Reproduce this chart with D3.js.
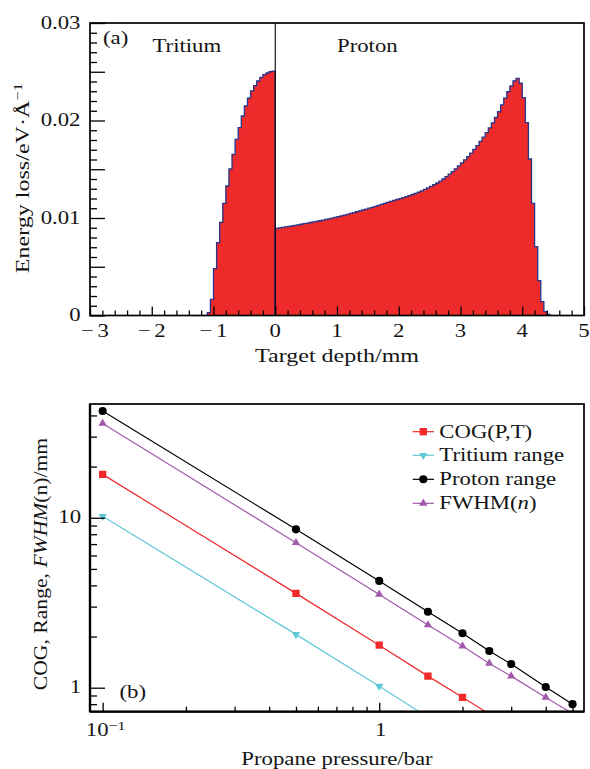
<!DOCTYPE html>
<html>
<head>
<meta charset="utf-8">
<script src="https://cdn.jsdelivr.net/npm/d3@7"></script>
<style>
  body { margin: 0; background: #fff; }
  svg text { font-family: "Liberation Serif", "Times New Roman", serif; fill: #141414; }
</style>
</head>
<body>
<svg id="fig" width="590" height="769"></svg>
<script>
// ---------- (a) energy-loss histograms ----------
const binWidth = 0.05;               // mm per histogram bin
const tritiumStart = -1.10;          // left edge of first tritium bin (mm)
const tritiumLoss = [
  0.00029, 0.00166, 0.0048, 0.00747, 0.00956, 0.01151, 0.01328, 0.01503, 0.01653, 0.01807,
  0.01926, 0.02046, 0.02149, 0.02228, 0.02303, 0.02357, 0.02405, 0.02443, 0.0247, 0.02487,
  0.025, 0.02505
];
const protonStart = 0;
const protonLoss = [
  0.00894, 0.00899, 0.00904, 0.00909, 0.00914, 0.00919, 0.00925, 0.0093, 0.00936, 0.00942,
  0.00948, 0.00954, 0.0096, 0.00966, 0.00972, 0.00978, 0.00985, 0.00992, 0.00999, 0.01006,
  0.01014, 0.01022, 0.0103, 0.01038, 0.01047, 0.01055, 0.01064, 0.01073, 0.01082, 0.01092,
  0.01101, 0.0111, 0.0112, 0.0113, 0.0114, 0.0115, 0.0116, 0.0117, 0.0118, 0.0119,
  0.01199, 0.01209, 0.01219, 0.0123, 0.01241, 0.01253, 0.01266, 0.01279, 0.01293, 0.01308,
  0.01324, 0.01341, 0.01359, 0.01378, 0.014, 0.01424, 0.01449, 0.01476, 0.01504, 0.01534,
  0.01565, 0.01597, 0.0163, 0.01665, 0.01703, 0.01743, 0.01785, 0.01829, 0.01875, 0.01924,
  0.01976, 0.02031, 0.0209, 0.0216, 0.0223, 0.02295, 0.02355, 0.02405, 0.02433, 0.02382,
  0.02234, 0.01978, 0.01605, 0.01151, 0.00706, 0.00357, 0.00142, 0.00039, 0.00012
];
const depthTicks = [-3, -2, -1, 0, 1, 2, 3, 4, 5];
const depthTickLabels = ["\u2212\u20063", "\u2212\u20062", "\u2212\u20061", "0", "1", "2", "3", "4", "5"];
const lossTicks = [0, 0.01, 0.02, 0.03];
const lossTickLabels = ["0", "0.01", "0.02", "0.03"];

// ---------- (b) ranges vs. pressure ----------
const pressure = [0.1, 0.5, 1, 1.5, 2, 2.5, 3, 4, 5];
const protonRange = [42.5, 8.55, 4.25, 2.80, 2.09, 1.644, 1.378, 1.01, 0.80];
const fwhmN = [35.9, 7.13, 3.54, 2.34, 1.76, 1.39, 1.17, 0.877, 0.705];
const cogPressure = [0.1, 0.5, 1, 1.5, 2, 2.5];
const cogPT = [18.0, 3.59, 1.78, 1.17, 0.878, 0.70];
const tritiumPressure = [0.1, 0.5, 1, 1.5];
const tritiumRange = [10.2, 2.06, 1.02, 0.67];
const pressureMajor = [0.1, 1];
const pressureMinor = [0.2, 0.3, 0.4, 0.5, 0.6, 0.7, 0.8, 0.9, 2, 3, 4, 5];
const rangeMajor = [1, 10];
const rangeMinor = [0.8, 0.9, 2, 3, 4, 5, 6, 7, 8, 9, 20, 30, 40];

// ---------- drawing ----------
const svg = d3.select("#fig");
const FS = 18.5;     // base font size
const SX = 1.23;     // horizontal glyph stretch of the typeface
const red = "#ee2a2a", navy = "#27358a", cyan = "#62c8d6", purple = "#a15aab";

// text helper: parts = [[string, {italic, sup}], ...]
function label(parent, parts, x, y, opts = {}) {
  const t = parent.append("text")
    .attr("transform", `translate(${x},${y})${opts.rotate ? ` rotate(${opts.rotate})` : ""} scale(${opts.sx || SX},1)`)
    .attr("text-anchor", opts.anchor || "start")
    .style("font-size", (opts.size || FS) + "px");
  if (typeof parts === "string") parts = [[parts, {}]];
  let raised = 0;
  parts.forEach(([s, st]) => {
    const sp = t.append("tspan").text(s);
    if (st.italic) sp.style("font-style", "italic");
    if (st.sup) {
      sp.style("font-size", (FS * 0.7) + "px").attr("dy", -st.sup);
      raised += st.sup;
    } else if (raised) {
      sp.attr("dy", raised); raised = 0;
    }
  });
  return t;
}

function frame(g, x0, x1, y0, y1, w) {
  g.append("rect").attr("x", x0).attr("y", y0).attr("width", x1 - x0).attr("height", y1 - y0)
    .attr("fill", "none").attr("stroke", "#000").attr("stroke-width", w);
}

function ticksAxis(g, axisFn, scale, values, len, translate) {
  const a = axisFn(scale).tickValues(values).tickSizeInner(-len).tickSizeOuter(0).tickFormat("");
  const sel = g.append("g").attr("transform", translate).call(a);
  sel.select(".domain").remove();
  sel.selectAll(".tick line").attr("stroke", "#000").attr("stroke-width", 1.3);
}

// ===== panel (a) =====
const A = { l: 90, r: 584, t: 23, b: 315.5 };
const xa = d3.scaleLinear().domain([-3, 5]).range([A.l, A.r]);
const ya = d3.scaleLinear().domain([0, 0.03]).range([A.b, A.t]);
const ga = svg.append("g");

function histPoints(start, vals) {
  const pts = [{ x: start, y: 0 }];
  vals.forEach((v, i) => pts.push({ x: start + i * binWidth, y: v }));
  pts.push({ x: start + vals.length * binWidth, y: vals[vals.length - 1] });
  pts.push({ x: start + vals.length * binWidth, y: 0 });
  return pts;
}
const area = d3.area().x(d => xa(d.x)).y0(ya(0)).y1(d => ya(d.y)).curve(d3.curveStepAfter);
const outline = d3.line().x(d => xa(d.x)).y(d => ya(d.y)).curve(d3.curveStepAfter);
[histPoints(tritiumStart, tritiumLoss), histPoints(protonStart, protonLoss)].forEach(pts => {
  ga.append("path").attr("d", area(pts)).attr("fill", red);
  ga.append("path").attr("d", outline(pts)).attr("fill", "none")
    .attr("stroke", navy).attr("stroke-width", 1.3).attr("stroke-linejoin", "miter");
});
// target boundary at depth 0
ga.append("line").attr("x1", xa(0)).attr("x2", xa(0)).attr("y1", A.t).attr("y2", A.b)
  .attr("stroke", "#000").attr("stroke-width", 1.1);

// ticks (inward)
ticksAxis(ga, d3.axisBottom, xa, depthTicks, 9, `translate(0,${A.b})`);
ticksAxis(ga, d3.axisBottom, xa, d3.range(-3, 5.001, 0.2).filter(v => Math.abs(v - Math.round(v)) > 1e-6), 5, `translate(0,${A.b})`);
ticksAxis(ga, d3.axisLeft, ya, [0, 0.005, 0.01, 0.015, 0.02, 0.025, 0.03], 15, `translate(${A.l},0)`);
ticksAxis(ga, d3.axisLeft, ya, d3.range(0, 0.0301, 0.001).filter(v => Math.abs(v / 0.005 - Math.round(v / 0.005)) > 1e-6), 7, `translate(${A.l},0)`);
frame(ga, A.l, A.r, A.t, A.b, 1.7);

depthTicks.forEach((v, i) => label(ga, depthTickLabels[i], xa(v) + (i === 0 ? 5 : 0), A.b + 21, { anchor: "middle" }));
lossTicks.forEach((v, i) => label(ga, lossTickLabels[i], 80.5, ya(v) + 5.5, { anchor: "end" }));
label(ga, "Target depth/mm", (A.l + A.r) / 2, 361.5, { anchor: "middle", sx: 1.3 });
label(ga, [["Energy loss/eV\u00B7\u00C5", {}], ["\u22121", { sup: 7 }]], 28.5, 178, { anchor: "middle", rotate: -90, sx: 1.3 });
label(ga, "(a)", 103, 44);
label(ga, "Tritium", 152.5, 51.7);
label(ga, "Proton", 337, 52);

// ===== panel (b) =====
const B = { l: 90, r: 584, t: 404, b: 711.7 };
const xb = d3.scaleLog().domain([0.09, 5.5]).range([B.l, B.r]);
const yb = d3.scaleLog().domain([0.7225, 46.7]).range([B.b, B.t]);
const gb = svg.append("g");

svg.append("defs").append("clipPath").attr("id", "clipB")
  .append("rect").attr("x", B.l).attr("y", B.t).attr("width", B.r - B.l).attr("height", B.b - B.t);

const series = [
  { name: [["COG(P,T)", {}]], xs: cogPressure, ys: cogPT, color: red, sym: d3.symbolSquare, size: 54, rot: 0 },
  { name: [["Tritium range", {}]], xs: tritiumPressure, ys: tritiumRange, color: cyan, sym: d3.symbolTriangle, size: 30, rot: 180 },
  { name: [["Proton range", {}]], xs: pressure, ys: protonRange, color: "#000", sym: d3.symbolCircle, size: 52, rot: 0 },
  { name: [["FWHM(", {}], ["n", { italic: true }], [")", {}]], xs: pressure, ys: fwhmN, color: purple, sym: d3.symbolTriangle, size: 30, rot: 0 }
];
const plotB = gb.append("g").attr("clip-path", "url(#clipB)");
const lineB = d3.line().x(d => xb(d[0])).y(d => yb(d[1]));
series.forEach(s => {
  const pts = s.xs.map((p, i) => [p, s.ys[i]]);
  plotB.append("path").attr("d", lineB(pts)).attr("fill", "none")
    .attr("stroke", s.color).attr("stroke-width", 1.2);
  plotB.selectAll(null).data(pts.filter(d => d[1] >= yb.domain()[0] && d[1] <= yb.domain()[1]))
    .enter().append("path")
    .attr("d", d3.symbol().type(s.sym).size(s.size))
    .attr("transform", d => `translate(${xb(d[0])},${yb(d[1])}) rotate(${s.rot})`)
    .attr("fill", s.color);
});

ticksAxis(gb, d3.axisBottom, xb, pressureMajor, 9, `translate(0,${B.b})`);
ticksAxis(gb, d3.axisBottom, xb, pressureMinor, 5, `translate(0,${B.b})`);
ticksAxis(gb, d3.axisLeft, yb, rangeMajor, 15, `translate(${B.l},0)`);
ticksAxis(gb, d3.axisLeft, yb, rangeMinor, 7, `translate(${B.l},0)`);
frame(gb, B.l, B.r, B.t, B.b, 1.7);
gb.append("line").attr("x1", B.l).attr("x2", B.l).attr("y1", B.t).attr("y2", B.b).attr("stroke", "#000").attr("stroke-width", 2.4);
gb.append("line").attr("x1", B.l).attr("x2", B.r).attr("y1", B.b).attr("y2", B.b).attr("stroke", "#000").attr("stroke-width", 2.2);

label(gb, [["10", {}], ["\u22121", { sup: 6 }]], xb(0.1) + 3, 735.5, { anchor: "middle" });
label(gb, "1", xb(1) + 1.5, 736, { anchor: "middle" });
label(gb, "10", 81, yb(10) + 5.3, { anchor: "end" });
label(gb, "1", 81, yb(1) + 5.5, { anchor: "end" });
label(gb, "Propane pressure/bar", (B.l + B.r) / 2, 764.5, { anchor: "middle" });
label(gb, [["COG, Range, ", {}], ["FWHM", { italic: true }], ["(n)/mm", {}]], 46.5, 564, { anchor: "middle", rotate: -90, sx: 1.17 });
label(gb, "(b)", 119.5, 697.5);

// legend
const legY = [431.7, 455.3, 479.3, 503.3];
series.forEach((s, i) => {
  const y = legY[i];
  gb.append("line").attr("x1", 412.7).attr("x2", 434).attr("y1", y).attr("y2", y)
    .attr("stroke", s.color).attr("stroke-width", 1.2);
  gb.append("path").attr("d", d3.symbol().type(s.sym).size(s.size))
    .attr("transform", `translate(423.3,${y}) rotate(${s.rot})`).attr("fill", s.color);
  label(gb, s.name, 439.3, y + 6);
});
</script>
</body>
</html>
